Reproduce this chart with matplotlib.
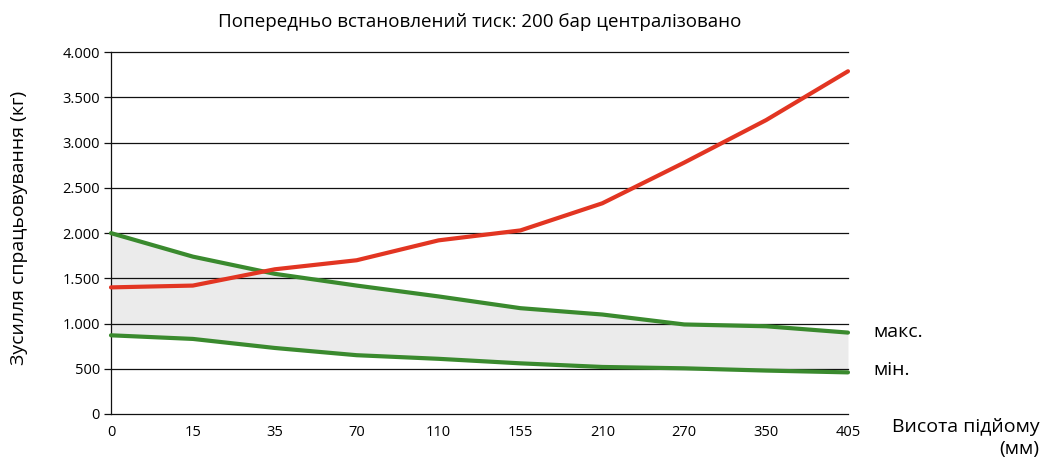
import matplotlib
matplotlib.use("Agg")
import matplotlib.pyplot as plt
from matplotlib.ticker import FuncFormatter

categories = ["0", "15", "35", "70", "110", "155", "210", "270", "350", "405"]
red_values = [1400, 1420, 1600, 1700, 1920, 2030, 2330, 2780, 3250, 3790]
max_values = [2000, 1740, 1550, 1420, 1300, 1170, 1100, 990, 970, 900]
min_values = [870, 830, 730, 650, 610, 560, 520, 505, 480, 460]
y_ticks = [0, 500, 1000, 1500, 2000, 2500, 3000, 3500, 4000]

plt.rcParams['font.family'] = ['Open Sans', 'DejaVu Sans']

fig = plt.figure(figsize=(10.46, 4.61), dpi=100)
ax = fig.add_axes([0.1061, 0.1020, 0.7046, 0.7846])

x = list(range(len(categories)))
ax.fill_between(x, min_values, max_values, color="#ebebeb", zorder=1, linewidth=0)
for t in y_ticks:
    ax.axhline(t, color="#111111", linewidth=0.9, zorder=2, clip_on=False)
ax.plot(x, max_values, color="#3a8a2e", linewidth=3, zorder=3, solid_capstyle='round', clip_on=False)
ax.plot(x, min_values, color="#3a8a2e", linewidth=3, zorder=3, solid_capstyle='round', clip_on=False)
ax.plot(x, red_values, color="#e23522", linewidth=3, zorder=4, solid_capstyle='round', clip_on=False)

ax.set_xlim(0, len(categories) - 1)
ax.set_ylim(0, 4000)
ax.set_xticks(x)
ax.set_xticklabels(categories, fontsize=10.5)
ax.set_yticks(y_ticks)
ax.yaxis.set_major_formatter(FuncFormatter(lambda v, p: f"{int(v):,}".replace(",", ".")))
ax.tick_params(axis='y', labelsize=10.5, length=5, width=0.9, color="#111111", pad=3)
ax.tick_params(axis='x', length=0, pad=8)
for s in ["top", "right", "bottom"]:
    ax.spines[s].set_visible(False)
ax.spines["left"].set_linewidth(0.9)
ax.spines["left"].set_color("#111111")

fig.text(0.459, 0.952, "Попередньо встановлений тиск: 200 бар централізовано",
         ha="center", va="center", fontsize=13.5)
fig.text(0.018, 0.505, "Зусилля спрацьовування (кг)", rotation=90,
         ha="center", va="center", fontsize=14)
fig.text(0.835, 0.280, "макс.", ha="left", va="center", fontsize=14)
fig.text(0.835, 0.198, "мін.", ha="left", va="center", fontsize=14)
fig.text(0.994, 0.050, "Висота підйому\n(мм)", ha="right", va="center",
         fontsize=14, multialignment="right", linespacing=1.3)

fig.savefig("out.png", dpi=100)
